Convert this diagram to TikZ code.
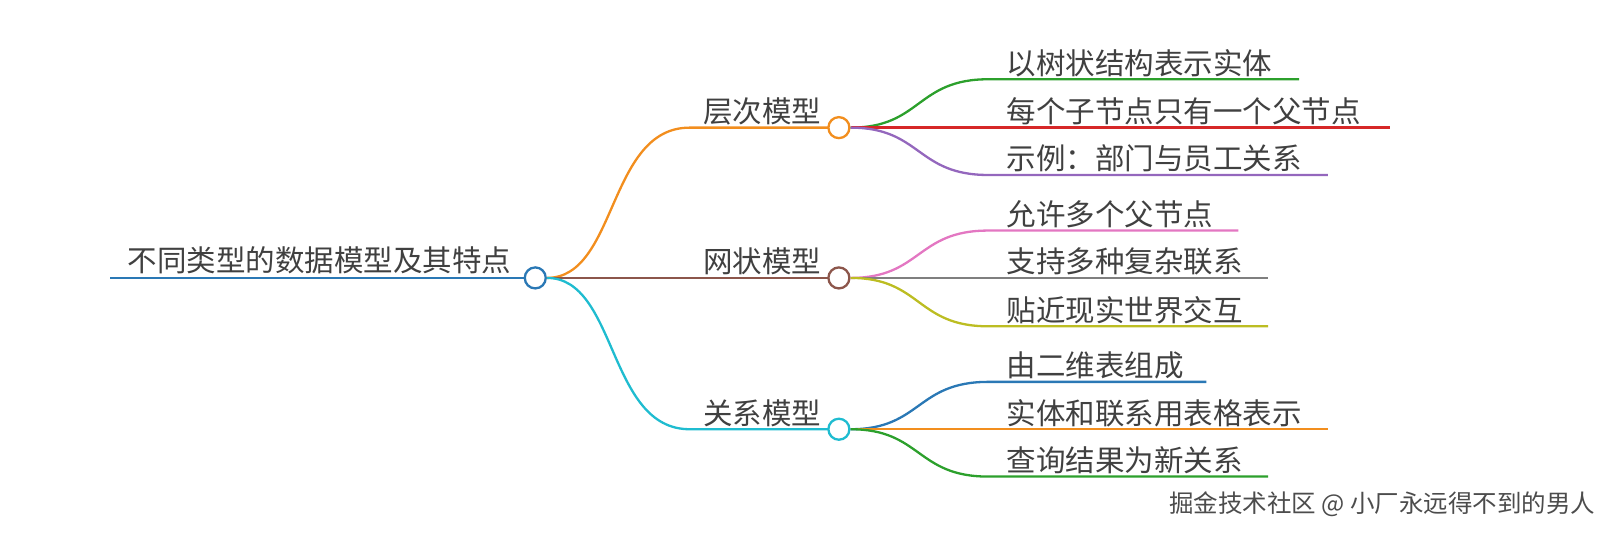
\documentclass[tikz,border=0pt]{standalone}
\usepackage{fontspec}
\setmainfont{Noto Sans CJK SC}
\begin{document}
\begin{tikzpicture}[x=1.0293pt,y=-1.0293pt,
  br/.style={line width=2.3pt},
  lab/.style={anchor=base west,inner sep=0pt,font=\fontsize{29.5}{30}\selectfont,text=black!75},
  dot/.style={circle,draw,line width=2.3pt,fill=white,minimum size=21pt,inner sep=0pt}]
\definecolor{cblue}{HTML}{2A78B5}\definecolor{corange}{HTML}{F28E1E}
\definecolor{cbrown}{HTML}{8C564B}\definecolor{ccyan}{HTML}{1FBCD0}
\definecolor{cgreen}{HTML}{2CA02C}\definecolor{cred}{HTML}{D62728}
\definecolor{cpurple}{HTML}{9467BD}\definecolor{cpink}{HTML}{E377C2}
\definecolor{cgray}{HTML}{7F7F7F}\definecolor{colive}{HTML}{BCBD22}
\useasboundingbox (0,0) rectangle (1568,518);
% root
\coordinate (r0) at (107,270);
\node[lab] (rt) at (124,264) {不同类型的数据模型及其特点};
\draw[br,cblue] (r0) -- (510,270);
\node[dot,draw=cblue] (r) at (520,270) {};
% level 1
\foreach \n/\t/\y/\c in {a/层次模型/124/corange,b/网状模型/270/cbrown,c/关系模型/417/ccyan}{
  \coordinate (\n0) at (670,\y);
  \node[lab] (\n t) at (683,\y-5) {\t};
  \draw[br,\c] (r.east) .. controls (600,270) and (590,\y) .. (\n0) -- (805,\y);
  \node[dot,draw=\c] (\n) at (815,\y) {};
}
% leaves
\foreach \p/\py/\n/\t/\y/\e/\c in {
 a/124/a1/以树状结构表示实体/77/1262/cgreen,
 a/124/a2/每个子节点只有一个父节点/124/1350/cred,
 a/124/a3/示例：部门与员工关系/170/1290/cpurple,
 b/270/b1/允许多个父节点/224/1203/cpink,
 b/270/b2/支持多种复杂联系/270/1232/cgray,
 b/270/b3/贴近现实世界交互/317/1232/colive,
 c/417/c1/由二维表组成/371/1172/cblue,
 c/417/c2/实体和联系用表格表示/417/1290/corange,
 c/417/c3/查询结果为新关系/463/1232/cgreen}{
  \coordinate (\n e) at (\e,\y);
  \node[lab] (\n) at (978,\y-5) {\t};
  \draw[br,\c] (\p.east) .. controls (895,\py) and (890,\y) .. (960,\y) -- (\n e);
}
\node[anchor=base east,inner sep=0pt,font=\fontsize{24.5}{25}\selectfont,text=black!70] (wm) at (1550,498) {掘金技术社区 @ 小厂永远得不到的男人};
\end{tikzpicture}
\end{document}
